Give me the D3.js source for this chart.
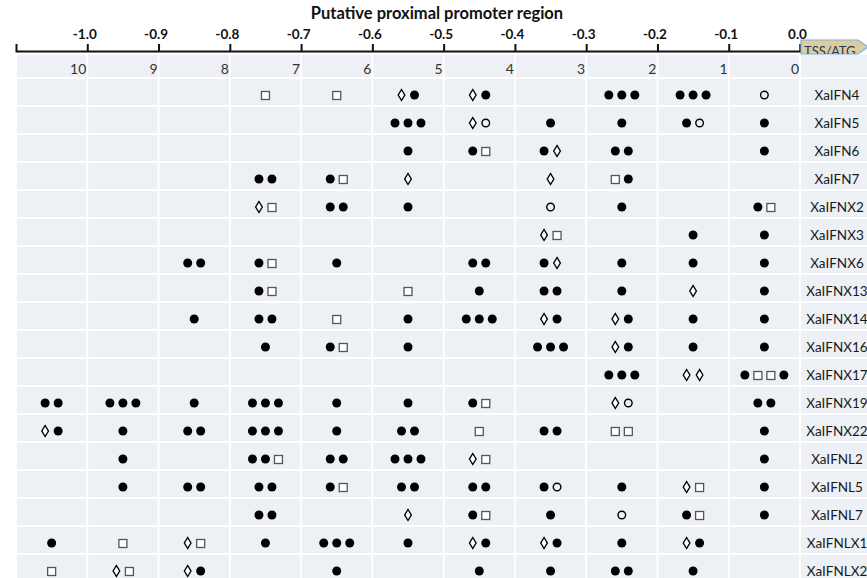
<!DOCTYPE html>
<html>
<head>
<meta charset="utf-8">
<script src="https://cdn.jsdelivr.net/npm/d3@7"></script>
<style>
  html, body { margin: 0; padding: 0; background: #fff; }
  svg { display: block; }
  text { font-family: Lato, "Open Sans", sans-serif; }
</style>
</head>
<body>
<svg id="chart" width="867" height="578"></svg>
<script>
// ---------------- DATA ----------------
const title = "Putative proximal promoter region";
const tickValues = [-1.0, -0.9, -0.8, -0.7, -0.6, -0.5, -0.4, -0.3, -0.2, -0.1, 0.0];
const tickLabels = ["-1.0", "-0.9", "-0.8", "-0.7", "-0.6", "-0.5", "-0.4", "-0.3", "-0.2", "-0.1", "0.0"];
const bins = [10, 9, 8, 7, 6, 5, 4, 3, 2, 1, 0];
const genes = ["XaIFN4", "XaIFN5", "XaIFN6", "XaIFN7", "XaIFNX2", "XaIFNX3", "XaIFNX6",
  "XaIFNX13", "XaIFNX14", "XaIFNX16", "XaIFNX17", "XaIFNX19", "XaIFNX22",
  "XaIFNL2", "XaIFNL5", "XaIFNL7", "XaIFNLX1", "XaIFNLX2"];
// symbols per bin (10..0): f = filled circle, o = open circle, d = diamond, s = square
const sites = [
  ["", "", "", "s", "s", "df", "df", "", "fff", "fff", "o"],
  ["", "", "", "", "", "fff", "do", "f", "f", "fo", "f"],
  ["", "", "", "", "", "f", "fs", "fd", "ff", "", "f"],
  ["", "", "", "ff", "fs", "d", "", "d", "sf", "", ""],
  ["", "", "", "ds", "ff", "f", "", "o", "f", "", "fs"],
  ["", "", "", "", "", "", "", "ds", "", "f", "f"],
  ["", "", "ff", "fs", "f", "", "ff", "fd", "f", "f", "f"],
  ["", "", "", "fs", "", "s", "f", "ff", "f", "d", "f"],
  ["", "", "f", "ff", "s", "f", "fff", "df", "df", "f", "f"],
  ["", "", "", "f", "fs", "f", "", "fff", "df", "f", "f"],
  ["", "", "", "", "", "", "", "", "fff", "dd", "fssf"],
  ["ff", "fff", "f", "fff", "f", "f", "fs", "", "do", "", "ff"],
  ["df", "f", "ff", "fff", "f", "ff", "s", "ff", "ss", "", "f"],
  ["", "f", "", "ffs", "ff", "fff", "ds", "", "", "", "f"],
  ["", "f", "ff", "ff", "fs", "ff", "ff", "fo", "f", "ds", "f"],
  ["", "", "", "ff", "", "d", "fs", "f", "o", "fs", "f"],
  ["f", "s", "ds", "f", "fff", "f", "df", "df", "f", "df", ""],
  ["s", "ds", "df", "", "f", "", "f", "f", "ff", "f", ""]
];

// ---------------- LAYOUT ----------------
const W = 867, H = 578;
const svg = d3.select("#chart");
const bg = "#edf0f5";

const x = d3.scaleLinear().domain([-1.1, 0]).range([16, 800]);
const headerTop = 55, headerBottom = 78;
const y = d3.scaleBand().domain(genes).range([78, 78 + genes.length * 28]).padding(0);
const binX = d3.scaleOrdinal().domain(bins).range(bins.map(b => x(-(b + 1) * 0.1)));
const binW = x(0) - x(-0.1);

// Title
svg.append("text")
  .attr("x", 437).attr("y", 19)
  .attr("text-anchor", "middle")
  .attr("font-size", 16.5).attr("font-weight", "bold")
  .attr("fill", "#111")
  .text(title);

// Axis
const axis = d3.axisTop(x)
  .tickValues(tickValues)
  .tickFormat((d, i) => tickLabels[i])
  .tickSize(7).tickSizeOuter(7);
const gAxis = svg.append("g").attr("transform", "translate(0,51)").call(axis);
gAxis.select(".domain").attr("stroke", "#111").attr("stroke-width", 2);
gAxis.selectAll(".tick line").attr("stroke", "#111").attr("stroke-width", 2);
gAxis.selectAll(".tick text")
  .attr("font-family", "Lato, 'Open Sans', sans-serif")
  .attr("font-size", 13.5).attr("font-weight", "bold").attr("fill", "#111")
  .attr("dx", -3).attr("y", -12);

// TSS/ATG arrow
const arrowPts = [[801, 40], [858, 40], [868, 47], [858, 54], [801, 54]];
svg.append("clipPath").attr("id", "arrowClip")
  .append("polygon").attr("points", arrowPts.map(p => p.join(",")).join(" "));
svg.append("polygon")
  .attr("points", arrowPts.map(p => p.join(",")).join(" "))
  .attr("fill", "#dccd9f").attr("stroke", "#7fb0dc").attr("stroke-width", 1.2);
svg.append("text")
  .attr("x", 804).attr("y", 56)
  .attr("clip-path", "url(#arrowClip)")
  .attr("font-size", 13).attr("fill", "#1f3864")
  .text("TSS/ATG");

// Header row
svg.selectAll("rect.hdr").data(bins).enter().append("rect")
  .attr("class", "hdr")
  .attr("x", b => binX(b) + 1).attr("y", headerTop)
  .attr("width", binW - 2).attr("height", headerBottom - headerTop - 1)
  .attr("fill", bg);
svg.append("rect").attr("x", x(0) + 1).attr("y", headerTop)
  .attr("width", W - x(0)).attr("height", headerBottom - headerTop - 1).attr("fill", bg);
svg.selectAll("text.hdr").data(bins).enter().append("text")
  .attr("class", "hdr")
  .attr("x", b => binX(b) + binW - 1).attr("y", 74)
  .attr("text-anchor", "end")
  .attr("font-size", 14).attr("fill", "#333")
  .text(b => b);

// Data cells
const rows = svg.selectAll("g.row").data(genes).enter().append("g")
  .attr("class", "row")
  .attr("transform", g => `translate(0,${y(g)})`);

rows.each(function (g, gi) {
  const row = d3.select(this);
  const h = y.bandwidth();
  bins.forEach((b) => {
    row.append("rect")
      .attr("x", binX(b) + 1).attr("y", 1)
      .attr("width", binW - 2).attr("height", h - 2)
      .attr("fill", bg);
  });
  row.append("rect")
    .attr("x", x(0) + 1).attr("y", 1)
    .attr("width", W - x(0)).attr("height", h - 2)
    .attr("fill", bg);
  row.append("text")
    .attr("x", 837).attr("y", 22)
    .attr("text-anchor", "middle")
    .attr("font-size", 13.5).attr("fill", "#1a1a1a")
    .text(g);

  // symbols
  bins.forEach((b, bi) => {
    const s = sites[gi][bi];
    if (!s) return;
    const n = s.length, step = 13;
    const cx0 = binX(b) + binW / 2 - (n - 1) * step / 2;
    const cy = 17;
    s.split("").forEach((c, k) => {
      const cx = cx0 + k * step;
      if (c === "f") {
        row.append("circle").attr("cx", cx).attr("cy", cy).attr("r", 4.5).attr("fill", "#000");
      } else if (c === "o") {
        row.append("circle").attr("cx", cx).attr("cy", cy).attr("r", 3.8)
          .attr("fill", "none").attr("stroke", "#000").attr("stroke-width", 1.4);
      } else if (c === "s") {
        row.append("rect").attr("x", cx - 4).attr("y", cy - 3.5).attr("width", 8).attr("height", 8)
          .attr("fill", "#fff").attr("stroke", "#555").attr("stroke-width", 1.3);
      } else if (c === "d") {
        row.append("path")
          .attr("d", `M${cx},${cy - 5.5}L${cx + 3.3},${cy}L${cx},${cy + 5.5}L${cx - 3.3},${cy}Z`)
          .attr("fill", "#fff").attr("stroke", "#000").attr("stroke-width", 1.4);
      }
    });
  });
});
</script>
</body>
</html>
